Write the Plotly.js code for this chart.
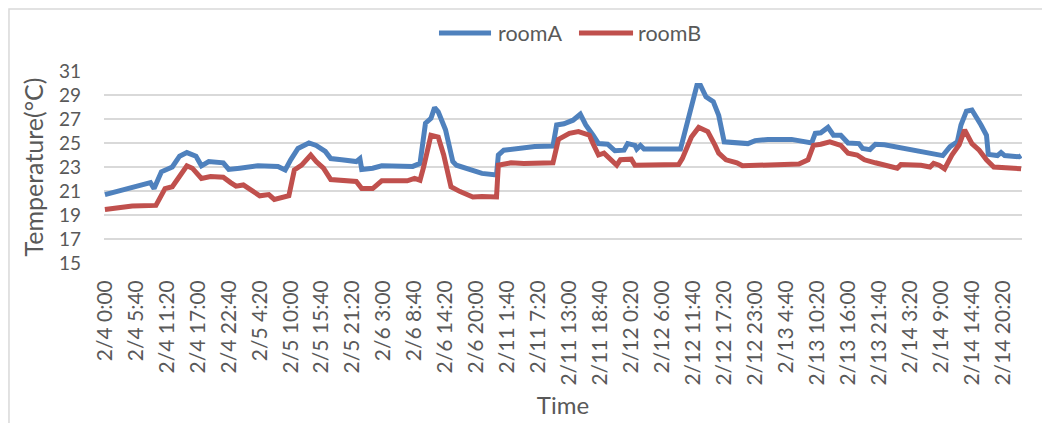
<!DOCTYPE html>
<html>
<head>
<meta charset="utf-8">
<script src="https://cdn.plot.ly/plotly-3.0.1.min.js"></script>
<style>
  html, body { margin: 0; padding: 0; background: #ffffff; }
  #chart { width: 1042px; height: 423px; }
</style>
</head>
<body>
<div id="chart"></div>
<script>
// Days present in the log (20-minute sampling; 2/7 - 2/10 missing)
const days = ["2/4", "2/5", "2/6", "2/11", "2/12", "2/13", "2/14"];

// Axis tick labels shown on the category axis
const tickLabels = ["2/4 0:00","2/4 5:40","2/4 11:20","2/4 17:00","2/4 22:40","2/5 4:20","2/5 10:00","2/5 15:40","2/5 21:20","2/6 3:00","2/6 8:40","2/6 14:20","2/6 20:00","2/11 1:40","2/11 7:20","2/11 13:00","2/11 18:40","2/12 0:20","2/12 6:00","2/12 11:40","2/12 17:20","2/12 23:00","2/13 4:40","2/13 10:20","2/13 16:00","2/13 21:40","2/14 3:20","2/14 9:00","2/14 14:40","2/14 20:20"];

// Series names and colours
const seriesNames = ["roomA", "roomB"];
const seriesColors = ["#4F81BD", "#C0504D"];

// roomA readings (time, °C)
const roomA_time = ["2/4 0:00","2/4 5:00","2/4 8:20","2/4 9:00","2/4 10:20","2/4 12:20","2/4 13:40","2/4 15:00","2/4 16:40","2/4 17:40","2/4 19:00","2/4 21:40","2/4 22:40","2/5 0:40","2/5 4:00","2/5 7:40","2/5 9:00","2/5 10:00","2/5 11:20","2/5 13:20","2/5 14:40","2/5 16:20","2/5 17:20","2/5 19:20","2/5 22:00","2/5 22:40","2/5 23:00","2/6 1:00","2/6 2:40","2/6 8:20","2/6 9:40","2/6 10:40","2/6 11:40","2/6 12:20","2/6 13:00","2/6 14:20","2/6 15:40","2/6 16:20","2/6 19:00","2/6 21:00","2/6 23:40","2/11 0:00","2/11 1:00","2/11 4:00","2/11 6:40","2/11 10:00","2/11 10:40","2/11 12:00","2/11 13:40","2/11 15:00","2/11 16:00","2/11 17:20","2/11 18:20","2/11 20:00","2/11 21:20","2/11 23:00","2/11 23:40","2/12 1:00","2/12 1:20","2/12 2:00","2/12 2:40","2/12 9:20","2/12 11:00","2/12 12:20","2/12 13:00","2/12 14:00","2/12 15:20","2/12 16:20","2/12 17:20","2/12 20:20","2/12 21:40","2/12 23:00","2/13 1:20","2/13 5:40","2/13 8:00","2/13 9:20","2/13 10:00","2/13 11:00","2/13 12:20","2/13 13:20","2/13 14:40","2/13 16:00","2/13 18:00","2/13 18:40","2/13 20:00","2/13 21:00","2/13 22:40","2/14 1:20","2/14 5:00","2/14 8:40","2/14 9:20","2/14 10:40","2/14 12:00","2/14 12:40","2/14 13:40","2/14 14:40","2/14 15:40","2/14 16:20","2/14 17:20","2/14 17:40","2/14 19:20","2/14 20:00","2/14 20:40","2/14 23:20","2/14 23:40"];
const roomA_temp = [20.7,21.35,21.7,21.2,22.6,23.0,23.9,24.2,23.9,23.1,23.45,23.35,22.8,22.9,23.1,23.05,22.75,23.6,24.55,25.0,24.8,24.3,23.7,23.6,23.45,23.7,22.8,22.9,23.1,23.05,23.3,26.65,27.05,27.95,27.6,26.1,23.45,23.15,22.75,22.47,22.33,24.0,24.4,24.55,24.7,24.75,26.5,26.6,26.9,27.4,26.5,25.65,24.95,24.9,24.35,24.4,24.95,24.8,24.5,24.8,24.5,24.5,27.6,29.8,29.8,28.85,28.45,27.3,25.1,25.0,24.95,25.2,25.3,25.3,25.1,25.0,25.8,25.85,26.3,25.65,25.65,25.0,24.95,24.55,24.45,24.9,24.85,24.6,24.35,24.0,23.95,24.7,25.1,26.5,27.65,27.75,27.05,26.5,25.65,24.05,23.95,24.2,23.95,23.85,23.95];

// roomB readings (time, °C)
const roomB_time = ["2/4 0:00","2/4 5:00","2/4 9:20","2/4 10:00","2/4 11:00","2/4 12:20","2/4 13:40","2/4 15:00","2/4 16:00","2/4 17:40","2/4 19:20","2/4 21:40","2/4 23:00","2/5 0:00","2/5 1:20","2/5 3:00","2/5 4:20","2/5 6:00","2/5 7:00","2/5 9:40","2/5 10:40","2/5 12:00","2/5 13:40","2/5 14:40","2/5 16:00","2/5 17:20","2/5 19:20","2/5 22:00","2/5 23:00","2/6 1:00","2/6 2:00","2/6 2:40","2/6 7:20","2/6 8:40","2/6 9:40","2/6 10:20","2/6 11:40","2/6 13:00","2/6 14:00","2/6 15:20","2/6 17:00","2/6 19:20","2/6 21:00","2/6 23:40","2/11 0:00","2/11 2:20","2/11 4:40","2/11 10:00","2/11 11:00","2/11 13:00","2/11 14:40","2/11 16:40","2/11 17:20","2/11 18:20","2/11 19:20","2/11 20:40","2/11 21:40","2/11 22:20","2/12 0:20","2/12 1:00","2/12 9:00","2/12 9:40","2/12 11:20","2/12 12:40","2/12 14:20","2/12 15:40","2/12 16:20","2/12 17:40","2/12 19:40","2/12 20:40","2/13 0:00","2/13 3:20","2/13 7:00","2/13 8:40","2/13 9:40","2/13 11:00","2/13 12:40","2/13 14:40","2/13 16:00","2/13 17:40","2/13 19:00","2/13 21:00","2/13 22:40","2/14 1:00","2/14 1:40","2/14 5:20","2/14 7:00","2/14 7:40","2/14 8:40","2/14 9:40","2/14 11:00","2/14 12:20","2/14 13:20","2/14 14:40","2/14 16:00","2/14 17:20","2/14 18:40","2/14 23:40"];
const roomB_temp = [19.45,19.75,19.8,20.4,21.2,21.35,22.3,23.1,22.9,22.05,22.2,22.15,21.7,21.4,21.5,21.0,20.6,20.7,20.3,20.6,22.75,23.15,24.0,23.45,22.9,21.95,21.85,21.8,21.2,21.2,21.6,21.85,21.85,22.05,21.9,23.0,25.65,25.5,24.0,21.35,20.95,20.5,20.55,20.5,23.15,23.35,23.3,23.35,25.3,25.8,25.95,25.65,24.95,24.0,24.15,23.6,23.15,23.6,23.65,23.15,23.2,23.7,25.5,26.3,25.95,24.8,24.15,23.6,23.35,23.1,23.15,23.1,23.25,23.6,24.8,24.9,25.1,24.8,24.15,24.0,23.6,23.35,23.2,22.9,23.2,23.15,23.0,23.3,23.15,22.85,24.0,24.85,26.1,24.95,24.4,23.6,23.0,22.85];

// Full category list (every 20 minutes of each logged day)
const categories = [];
days.forEach(d => {
  for (let m = 0; m < 1440; m += 20) {
    const h = Math.floor(m / 60), mm = m % 60;
    categories.push(d + " " + h + ":" + (mm < 10 ? "0" + mm : mm));
  }
});

const FONT = "Lato, 'Open Sans', sans-serif";
const GREY = "#595959";

const traces = [
  { type: "scatter", mode: "lines", name: seriesNames[0], x: roomA_time, y: roomA_temp,
    line: { color: seriesColors[0], width: 5 } },
  { type: "scatter", mode: "lines", name: seriesNames[1], x: roomB_time, y: roomB_temp,
    line: { color: seriesColors[1], width: 5 } }
];

// Legend drawn as layout decorations (long line keys like the original)
const legY = 1.198;
const legendKeys = [
  { x0: 0.3649, x1: 0.4216, tx: 0.4270 },
  { x0: 0.5174, x1: 0.5763, tx: 0.5795 }
];
const legendShapes = legendKeys.map((k, i) => ({
  type: "line", xref: "paper", yref: "paper", x0: k.x0, x1: k.x1, y0: legY, y1: legY,
  line: { color: seriesColors[i], width: 5 }
}));
const legendTexts = legendKeys.map((k, i) => ({
  xref: "paper", yref: "paper", x: k.tx, y: legY, xanchor: "left", yanchor: "middle",
  text: seriesNames[i], showarrow: false, font: { family: FONT, size: 21.5, color: GREY }
}));

const layout = {
  width: 1042, height: 423,
  paper_bgcolor: "#ffffff", plot_bgcolor: "#ffffff",
  margin: { l: 104, r: 20, t: 71, b: 160, pad: 0 },
  font: { family: FONT, color: GREY, size: 19 },
  showlegend: false,
  xaxis: {
    type: "category", categoryorder: "array", categoryarray: categories,
    range: [-0.5, categories.length - 0.5],
    tickmode: "array", tickvals: tickLabels, ticktext: tickLabels,
    tickangle: -90, ticks: "", showgrid: false, zeroline: false, showline: false,
    ticklabelstandoff: 12,
    tickfont: { family: FONT, size: 21, color: GREY },
    title: { text: "Time", font: { family: FONT, size: 24, color: GREY }, standoff: 12 },
    automargin: false
  },
  yaxis: {
    range: [15, 31], tick0: 15, dtick: 2, ticks: "",
    showgrid: true, gridcolor: "#d9d9d9", gridwidth: 2,
    zeroline: false, showline: false,
    ticklabelstandoff: 22,
    tickfont: { family: FONT, size: 19, color: GREY },
    title: { text: "Temperature(°C)", font: { family: FONT, size: 25, color: GREY }, standoff: 8 },
    automargin: false
  },
  annotations: legendTexts,
  shapes: [
    { type: "rect", xref: "paper", yref: "paper", x0: -0.1035, x1: 1.2, y0: -1.0, y1: 1.323,
      line: { color: "#d9d9d9", width: 1.5 }, fillcolor: "rgba(0,0,0,0)", layer: "below" }
  ].concat(legendShapes)
};

Plotly.newPlot("chart", traces, layout, { staticPlot: true, displayModeBar: false });
</script>
</body>
</html>
